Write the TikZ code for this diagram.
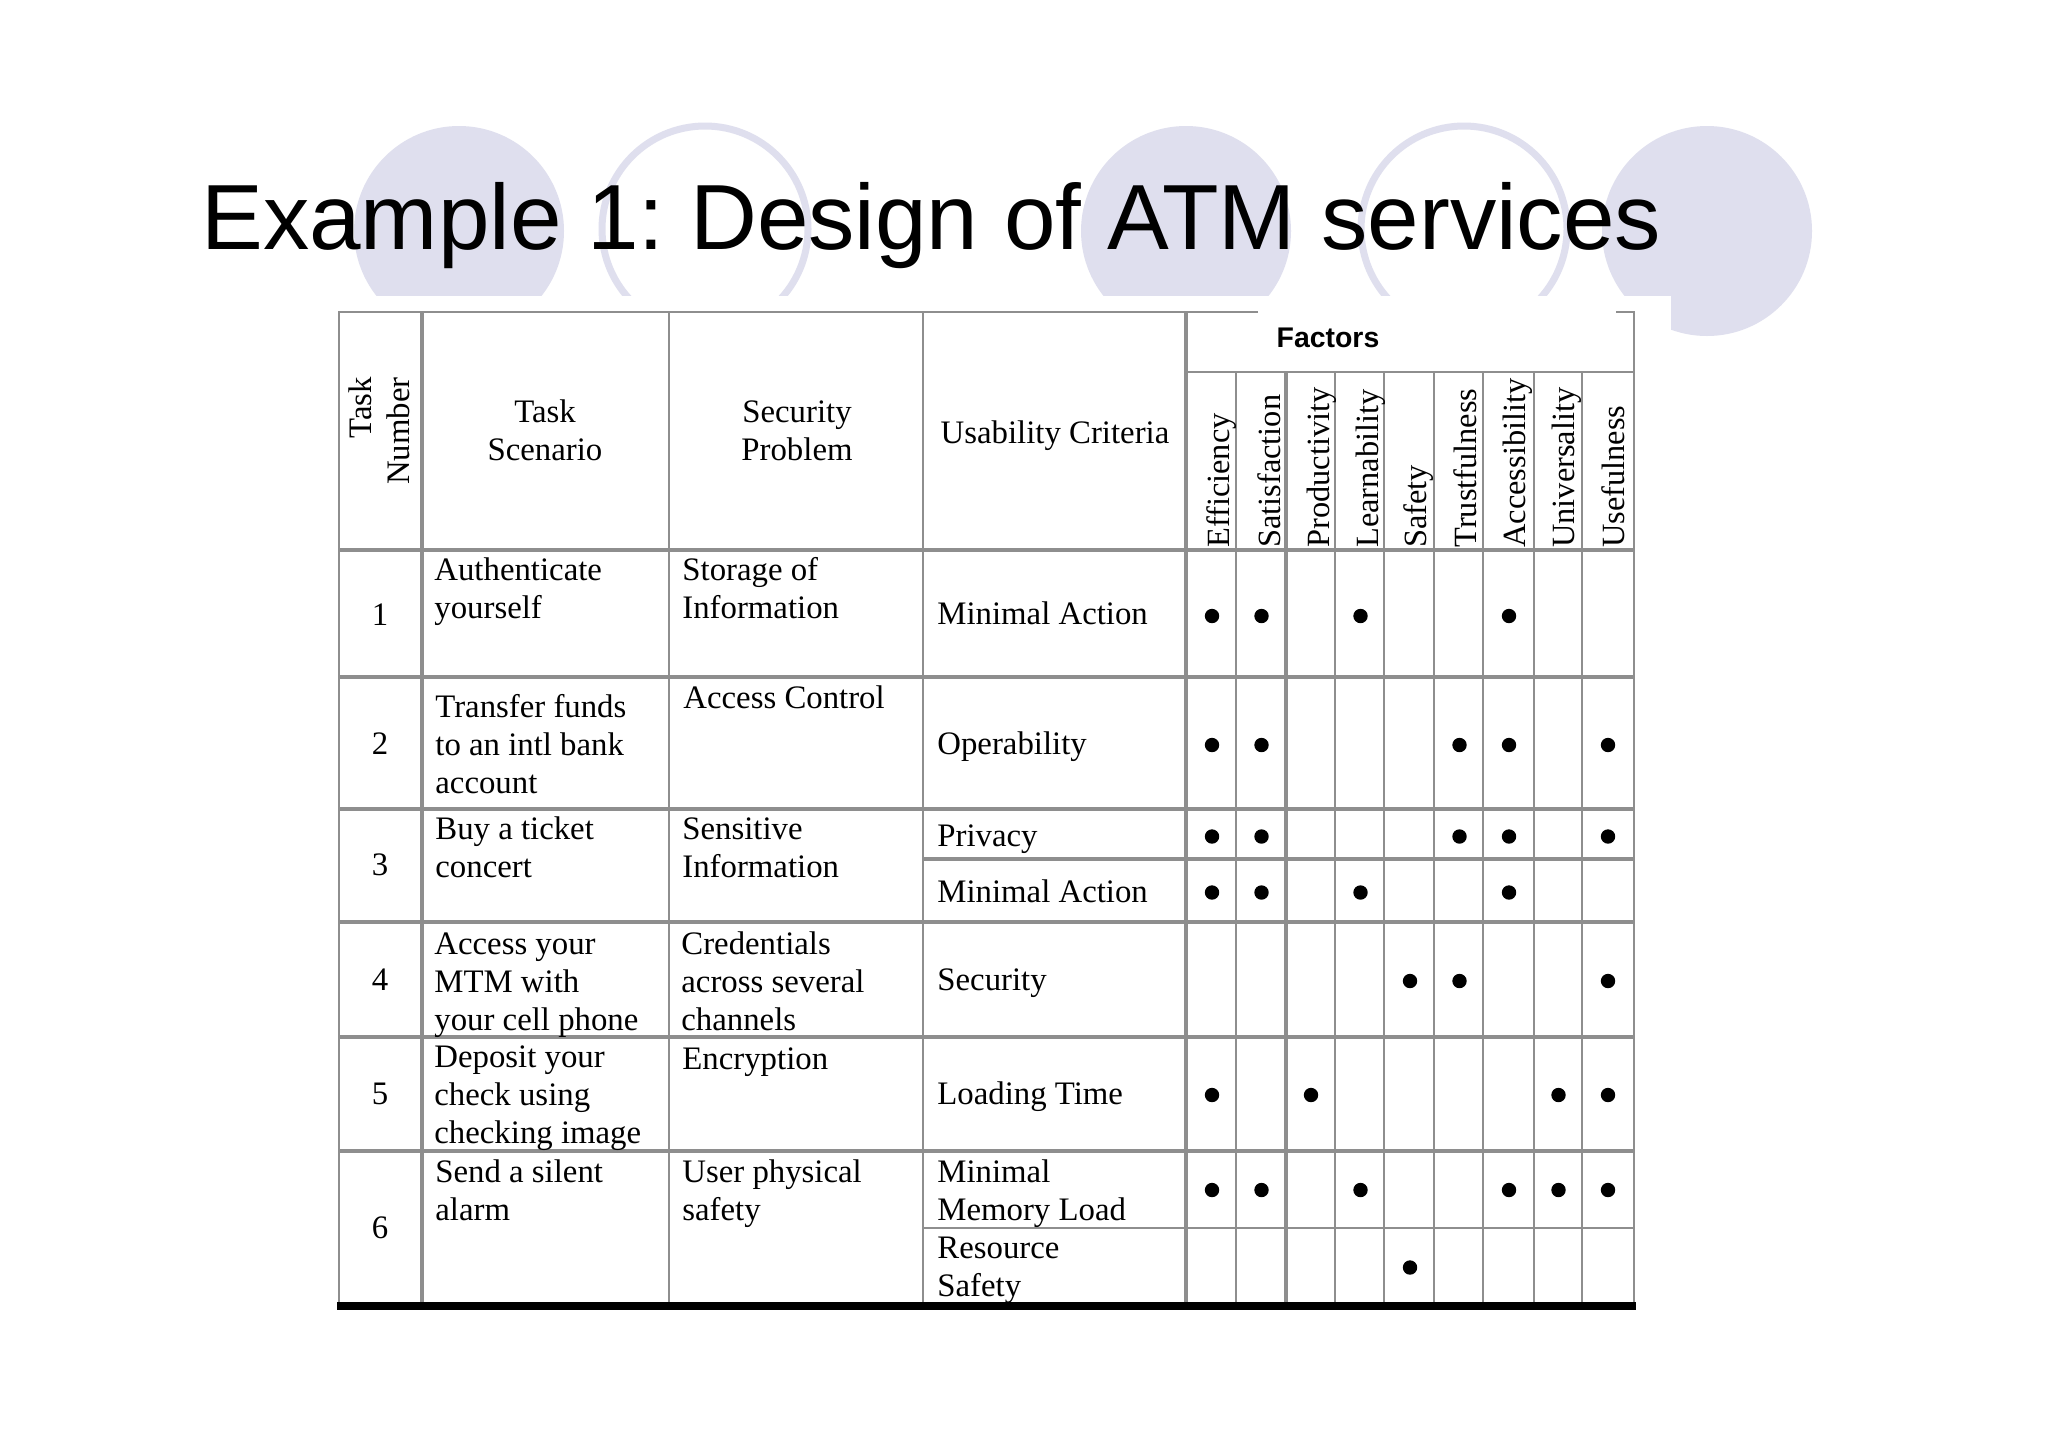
\documentclass[tikz,border=0pt]{standalone}
\usepackage{fontspec}
\setmainfont{Liberation Serif}
\newfontfamily\titlefont{Liberation Sans}
\definecolor{ringblue}{HTML}{DFDFEE}
\definecolor{gridgray}{HTML}{8E8E8E}
\tikzset{
    thinrule/.style={draw=gridgray,line width=1pt},
    thickrule/.style={draw=gridgray,line width=1.7pt},
    cell/.style={anchor=base west,align=left,inner sep=0pt,font=\fontsize{16.4}{19}\selectfont},
    midcell/.style={anchor=base,align=center,inner sep=0pt,font=\fontsize{16.4}{19}\selectfont},
    rownum/.style={anchor=base,inner sep=0pt,font=\fontsize{16.4}{19}\selectfont},
    factorname/.style={anchor=base west,rotate=90,inner sep=0pt,font=\fontsize{16.2}{19}\selectfont},
}
\begin{document}
\frenchspacing
\begin{tikzpicture}[x=0.5pt,y=-0.5pt]
    \useasboundingbox (0,0) rectangle (2048,1447);
    \fill[white] (0,0) rectangle (2048,1447);
    % Circles behind the title
    \foreach \cx in {459,1186,1707}
        \fill[ringblue] (\cx,231) circle (105);
    \foreach \cx in {705,1464}
        \draw[ringblue,line width=3.5pt] (\cx,229) circle (103);
    \fill[white] (0,296) rectangle (1671,1447);
    \fill[white] (1671,337) rectangle (2048,1447);
    \node[anchor=base west,inner sep=0pt,font=\titlefont\fontsize{46.3}{50}\selectfont] (title) at (201,249) {Example 1: Design of ATM services};
    % Rules
    \draw[thinrule] (1258,312) -- (339,312) -- (339,1305);
    \draw[thinrule] (1616,312) -- (1634,312) -- (1634,1305);
    \foreach \x in {669,923}
        \draw[thinrule] (\x,312) -- (\x,1305);
    \foreach \x in {422,1186}
        \draw[thickrule] (\x,312) -- (\x,1305);
    \foreach \x in {1236,1335,1384,1434,1483,1534,1582}
        \draw[thinrule] (\x,372) -- (\x,1305);
    \draw[thickrule] (1286,372) -- (1286,1305);
    \draw[thinrule] (1186,372) -- (1634,372);
    \foreach \y in {550,677,809,922,1037,1151}
        \draw[thickrule] (339,\y) -- (1634,\y);
    \draw[thickrule] (923,859) -- (1634,859);
    \draw[thinrule] (923,1228) -- (1634,1228);
    \draw[line width=3.6pt] (337,1306) -- (1636,1306);
    % Header
    \node[anchor=base,rotate=90,align=right,inner sep=0pt,font=\fontsize{16.4}{18.8}\selectfont] (tasknum) at (409,431) {Task\\Number};
    \node[midcell] (scenario) at (545,460) {Task\\Scenario};
    \node[midcell] (problem) at (797,460) {Security\\Problem};
    \node[midcell] (criteria) at (1055,443) {Usability Criteria};
    \node[anchor=base,inner sep=0pt,font=\titlefont\bfseries\fontsize{14.2}{16}\selectfont] (factors) at (1328,347) {Factors};
    \foreach \name [count=\c] / \bx in {Efficiency/1229,Satisfaction/1280,Productivity/1329,Learnability/1378,Safety/1426,Trustfulness/1476,Accessibility/1525,Universality/1574,Usefulness/1624}
        \node[factorname] (fac\c) at (\bx,548) {\name};
    % Task numbers
    \foreach \n/\y in {1/625,2/754,3/875,4/990,5/1104.5,6/1238}
        \node[rownum] (num\n) at (380,\y) {\n};
    % Task scenario
    \node[cell] (scn1) at (434,618.5) {Authenticate\\yourself};
    \node[cell] (scn2) at (435,793) {Transfer funds\\to an intl bank\\account};
    \node[cell] (scn3) at (435,877) {Buy a ticket\\concert};
    \node[cell] (scn4) at (434,1030) {Access your\\MTM with\\your cell phone};
    \node[cell] (scn5) at (434,1143.5) {Deposit your\\check using\\checking image};
    \node[cell] (scn6) at (435,1220) {Send a silent\\alarm};
    % Security problem
    \node[cell] (sec1) at (682,618) {Storage of\\Information};
    \node[cell] (sec2) at (683,708) {Access Control};
    \node[cell] (sec3) at (682,877) {Sensitive\\Information};
    \node[cell] (sec4) at (681,1030) {Credentials\\across several\\channels};
    \node[cell] (sec5) at (682,1069) {Encryption};
    \node[cell] (sec6) at (682,1220) {User physical\\safety};
    % Usability criteria
    \node[cell] (crit1) at (937,624.5) {Minimal Action};
    \node[cell] (crit2) at (937,754) {Operability};
    \node[cell] (crit3) at (937,846) {Privacy};
    \node[cell] (crit4) at (937,902) {Minimal Action};
    \node[cell] (crit5) at (937,990) {Security};
    \node[cell] (crit6) at (937,1104) {Loading Time};
    \node[cell] (crit7) at (937,1220) {Minimal\\Memory Load};
    \node[cell] (crit8) at (937,1296) {Resource\\Safety};
    % Marks
    \foreach \y/\cols in {616/{1,2,4,7},745/{1,2,6,7,9},836.5/{1,2,6,7,9},892.5/{1,2,4,7},981/{5,6,9},1095/{1,3,8,9},1190/{1,2,4,7,8,9},1267.5/{5}}
        \foreach \c in \cols
            \fill ({1212+(\c-1)*49.5},\y) circle (7.2);
\end{tikzpicture}
\end{document}
